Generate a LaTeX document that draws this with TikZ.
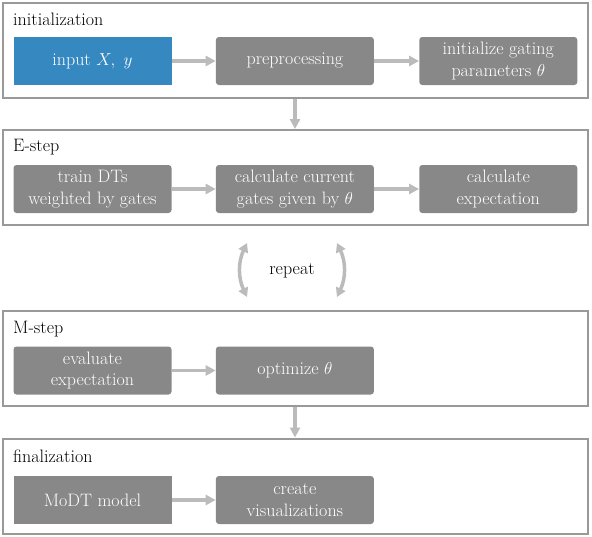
\documentclass[tikz,border=0pt]{standalone}
\usepackage{tikz}
\usetikzlibrary{arrows.meta,positioning}

\definecolor{boxgray}{HTML}{888888}
\definecolor{framegray}{HTML}{999999}
\definecolor{arrowgray}{HTML}{BBBBBB}
\definecolor{inputblue}{HTML}{3588C0}

\begin{document}
\begin{tikzpicture}[
                x=1pt, y=-1pt,
                node distance=44pt,
                stage/.style={draw=framegray, line width=2pt, minimum width=585pt,
                              minimum height=95pt, inner sep=0pt},
                stagelabel/.style={anchor=west, inner sep=0pt,
                                   font=\fontsize{18}{21}\selectfont},
                block/.style={fill=boxgray, text=white, rounded corners=3pt,
                              minimum width=158pt, minimum height=48pt, align=center,
                              inner sep=0pt, font=\fontsize{18}{21.5}\selectfont},
                flow/.style={draw=arrowgray, line width=3.5pt,
                             -{Triangle[length=10pt, width=10pt]}},
                loop/.style={draw=arrowgray, line width=3.5pt,
                             {Triangle[length=9pt, width=10pt]}-{Triangle[length=9pt, width=10pt]}}
            ]
            \useasboundingbox (0,0) rectangle (592,536);
            % stages
            \node[stage] (init)  at (295,50.5)  {};
            \node[stage] (estep) at (295,177.5) {};
            \node[stage] (mstep) at (295,358.5) {};
            \node[stage] (final) at (295,486)   {};
            \node[stagelabel] at (13,19)  {initialization};
            \node[stagelabel] at (13,147) {E-step};
            \node[stagelabel] at (13,329) {M-step};
            \node[stagelabel] at (13,456) {finalization};
            % initialization
            \node[block, fill=inputblue, rounded corners=0pt] (input) at (92.5,61) {input $X,\ y$};
            \node[block, right=of input] (prep) {preprocessing};
            \node[block, right=45pt of prep] (gate) {initialize gating\\parameters $\theta$};
            \draw[flow] (input) -- (prep);
            \draw[flow] (prep) -- (gate);
            % E-step
            \node[block] (train) at (92.5,189) {train DTs\\weighted by gates};
            \node[block, right=of train] (gates) {calculate current\\gates given by $\theta$};
            \node[block, right=45pt of gates] (expect) {calculate\\expectation};
            \draw[flow] (train) -- (gates);
            \draw[flow] (gates) -- (expect);
            % M-step
            \node[block] (eval) at (92.5,370.5) {evaluate\\expectation};
            \node[block, right=of eval] (optim) {optimize $\theta$};
            \draw[flow] (eval) -- (optim);
            % finalization
            \node[block, rounded corners=0pt] (model) at (92.5,500) {MoDT model};
            \node[block, right=of model] (vis) {create\\visualizations};
            \draw[flow] (model) -- (vis);
            % stage transitions
            \draw[flow] (init.south) -- (estep.north);
            \draw[flow] (mstep.south) -- (final.north);
            % repeat loop
            \node[font=\fontsize{18}{21}\selectfont] (repeat) at (292,271) {repeat};
            \coordinate (lt) at (247,243);
            \coordinate (lb) at (247,297);
            \coordinate (rt) at (337,243);
            \coordinate (rb) at (337,297);
            \draw[loop] (lt) to[bend right=25] (lb);
            \draw[loop] (rt) to[bend left=25] (rb);
\end{tikzpicture}
\end{document}
